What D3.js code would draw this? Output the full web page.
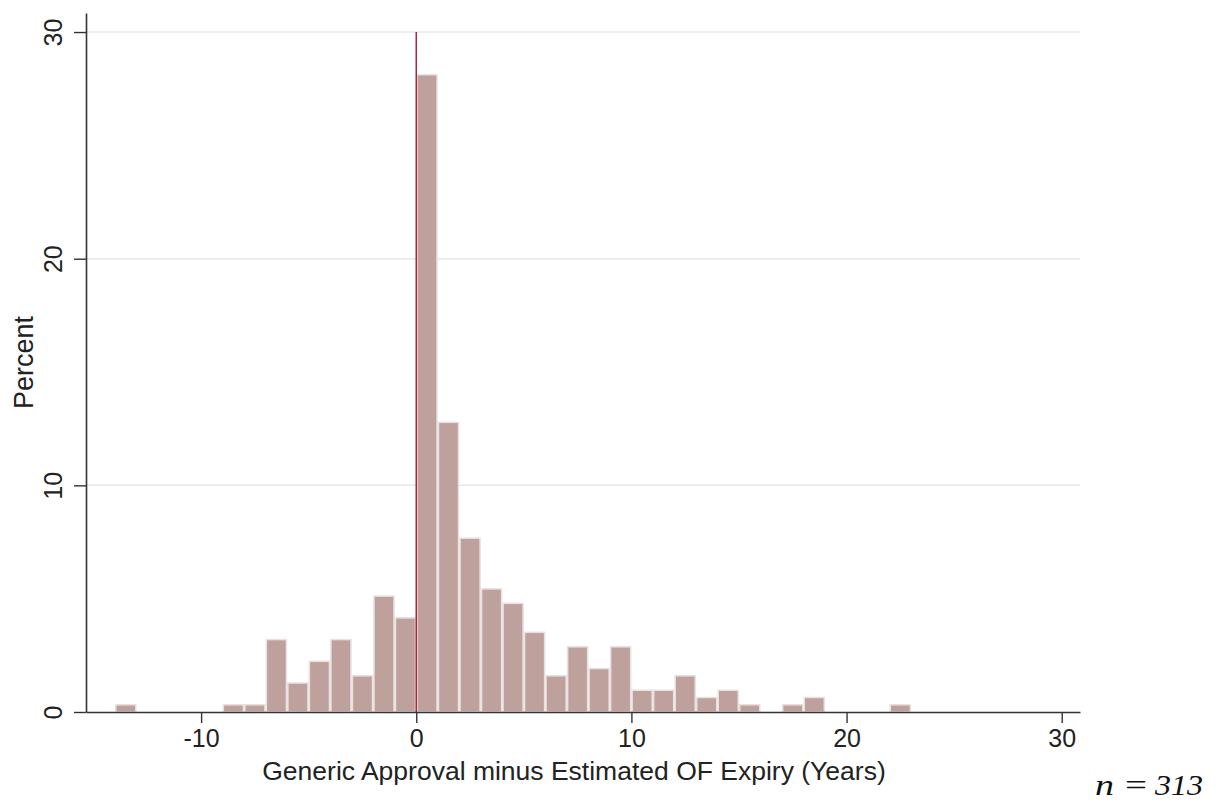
<!DOCTYPE html>
<html>
<head>
<meta charset="utf-8">
<script src="https://cdn.jsdelivr.net/npm/d3@7"></script>
<style>
  html, body { margin: 0; padding: 0; background: #fff; }
  svg { display: block; }
  .tick text { font-family: "Liberation Sans", Arial, sans-serif; fill: #222; }
</style>
</head>
<body>
<svg id="chart" width="1217" height="802"></svg>
<script>
// Histogram of (generic approval − estimated OF expiry), one-year bins
const n = 313;
const binStarts = [-14, -9, -8, -7, -6, -5, -4, -3, -2, -1, 0, 1, 2, 3, 4, 5, 6, 7, 8, 9, 10, 11, 12, 13, 14, 15, 17, 18, 22];
const binCounts = [1, 1, 1, 10, 4, 7, 10, 5, 16, 13, 88, 40, 24, 17, 15, 11, 5, 9, 6, 9, 3, 3, 5, 2, 3, 1, 1, 2, 1];
const xTicks = [-10, 0, 10, 20, 30];
const yTicks = [0, 10, 20, 30];
const xTitle = "Generic Approval minus Estimated OF Expiry (Years)";
const yTitle = "Percent";

const bins = binStarts.map((s, i) => ({ x0: s, x1: s + 1, pct: binCounts[i] / n * 100 }));

const svg = d3.select("#chart");

const x = d3.scaleLinear().domain([-15.35, 30.85]).range([86, 1080]);
const y = d3.scaleLinear().domain([0, 30.84]).range([712, 13]);

// horizontal grid lines
svg.append("g")
  .selectAll("line")
  .data(yTicks.filter(d => d > 0))
  .join("line")
  .attr("x1", x.range()[0]).attr("x2", x.range()[1])
  .attr("y1", d => y(d)).attr("y2", d => y(d))
  .attr("stroke", "#e2eaee")
  .attr("stroke-width", 1.5);

// bars
svg.append("g")
  .selectAll("rect")
  .data(bins)
  .join("rect")
  .attr("x", d => x(d.x0) + 0.75)
  .attr("width", d => x(d.x1) - x(d.x0) - 1.5)
  .attr("y", d => y(d.pct))
  .attr("height", d => y(0) - y(d.pct))
  .attr("fill", "#bea19c")
  .attr("stroke", "#e9e0df")
  .attr("stroke-width", 1.5);

// reference line at zero
svg.append("line")
  .attr("x1", x(0)).attr("x2", x(0))
  .attr("y1", y(30)).attr("y2", y(0))
  .attr("stroke", "#a8283a")
  .attr("stroke-width", 1.5);

// x axis
const xAxis = svg.append("g")
  .attr("transform", `translate(0,${y(0)})`)
  .call(d3.axisBottom(x).tickValues(xTicks).tickSize(11).tickPadding(6).tickSizeOuter(0));
xAxis.select(".domain").attr("stroke", "#333").attr("stroke-width", 1.6);
xAxis.selectAll(".tick line").attr("stroke", "#333").attr("stroke-width", 1.4);
xAxis.selectAll(".tick text").attr("font-size", 25).attr("dy", "0.71em")
  .text(d => d < 0 ? "-" + Math.abs(d) : d);

// y axis
const yAxis = svg.append("g")
  .attr("transform", `translate(${x.range()[0]},0)`)
  .call(d3.axisLeft(y).tickValues(yTicks).tickSize(12).tickSizeOuter(0));
yAxis.select(".domain").attr("stroke", "#333").attr("stroke-width", 1.6);
yAxis.selectAll(".tick line").attr("stroke", "#333").attr("stroke-width", 1.4);
yAxis.selectAll(".tick text")
  .attr("font-size", 25)
  .attr("x", null).attr("dy", null)
  .attr("text-anchor", "middle")
  .attr("transform", "translate(-24,0) rotate(-90)");

// axis titles
svg.append("text")
  .attr("x", 574)
  .attr("y", 780)
  .attr("text-anchor", "middle")
  .attr("font-family", "Liberation Sans, Arial, sans-serif")
  .attr("font-size", 26.5)
  .attr("fill", "#222")
  .text(xTitle);

svg.append("text")
  .attr("transform", `translate(33,${(y(0) + y(30.84)) / 2}) rotate(-90)`)
  .attr("text-anchor", "middle")
  .attr("font-family", "Liberation Sans, Arial, sans-serif")
  .attr("font-size", 27)
  .attr("fill", "#222")
  .text(yTitle);

// sample size note, typeset like a math expression
const note = svg.append("g")
  .attr("font-family", "Liberation Serif, 'Times New Roman', serif")
  .attr("font-size", 29)
  .attr("fill", "#111");
note.append("text").attr("x", 1095).attr("y", 795)
  .attr("font-style", "italic")
  .attr("textLength", 19).attr("lengthAdjust", "spacingAndGlyphs")
  .text("n");
note.append("text").attr("x", 1125).attr("y", 795)
  .attr("textLength", 22).attr("lengthAdjust", "spacingAndGlyphs")
  .text("=");
note.append("text").attr("x", 1155).attr("y", 795)
  .attr("font-style", "italic")
  .attr("textLength", 48).attr("lengthAdjust", "spacingAndGlyphs")
  .text(String(n));
</script>
</body>
</html>
